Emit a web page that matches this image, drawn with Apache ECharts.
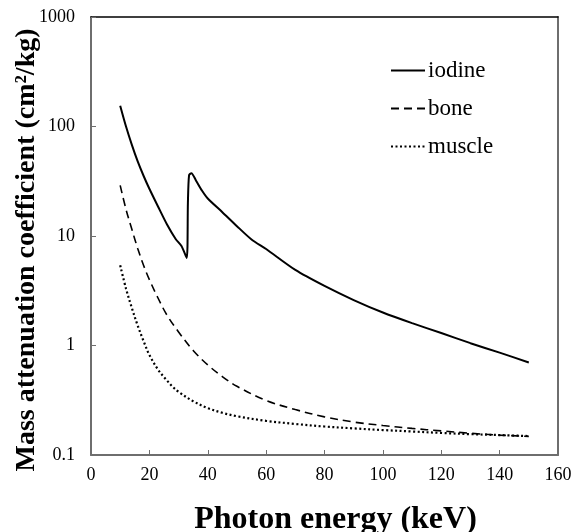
<!DOCTYPE html>
<html>
<head>
<meta charset="utf-8">
<script src="https://cdn.jsdelivr.net/npm/echarts@6/dist/echarts.min.js"></script>
<style>html,body{margin:0;padding:0;background:#fff}#c{width:581px;height:532px}</style>
</head>
<body>
<div id="c"></div>
<script>
// Photon energy (keV) and mass attenuation coefficients
const iodineE = [10, 12, 14, 16, 18, 20, 23, 26, 29, 31, 32.8, 33.2, 33.6, 34.4, 36, 38, 40, 45, 50, 55, 60, 70, 80, 90, 100, 110, 120, 130, 140, 150];
const iodineV = [155, 100, 68, 48, 35.5, 27, 18.5, 12.8, 9.4, 8.1, 6.3, 20, 36, 37.5, 32, 26, 22, 16.5, 12.3, 9.3, 7.6, 4.9, 3.5, 2.6, 2.0, 1.6, 1.3, 1.05, 0.86, 0.70];
const boneE = [10, 12, 14, 16, 18, 20, 23, 26, 30, 35, 40, 45, 50, 60, 70, 80, 90, 100, 110, 120, 130, 140, 150];
const boneV = [29, 17.5, 11.5, 7.7, 5.4, 4.0, 2.7, 1.9, 1.33, 0.9, 0.665, 0.52, 0.424, 0.315, 0.26, 0.223, 0.2, 0.186, 0.175, 0.166, 0.158, 0.152, 0.148];
const muscleE = [10, 12, 14, 16, 18, 20, 23, 26, 28, 30, 35, 40, 45, 50, 60, 70, 80, 90, 100, 110, 120, 130, 140, 150];
const muscleV = [5.4, 3.3, 2.2, 1.52, 1.1, 0.82, 0.60, 0.48, 0.42, 0.377, 0.31, 0.268, 0.243, 0.226, 0.205, 0.192, 0.182, 0.175, 0.169, 0.164, 0.159, 0.155, 0.152, 0.149];
const xTicks = [0, 20, 40, 60, 80, 100, 120, 140, 160];
const yTicks = [0.1, 1, 10, 100, 1000];
const seriesNames = ['iodine', 'bone', 'muscle'];

const pairs = (xs, ys) => xs.map((x, i) => [x, ys[i]]);
const font = '"Liberation Serif", "Times New Roman", serif';

const chart = echarts.init(document.getElementById('c'), null, {renderer: 'canvas'});
chart.setOption({
  animation: false,
  backgroundColor: '#fff',
  textStyle: {fontFamily: font},
  grid: {left: 91, right: 23, top: 17, bottom: 77, show: false, containLabel: false, outerBoundsMode: 'none'},
  legend: {
    orient: 'vertical',
    left: 385,
    top: 54,
    itemWidth: 34,
    itemHeight: 14,
    itemGap: 15,
    data: seriesNames,
    itemStyle: {opacity: 0},
    textStyle: {fontFamily: font, fontSize: 23, color: '#000', lineHeight: 23, padding: [0, 0, 0, -2]}
  },
  xAxis: [{
    type: 'value',
    min: xTicks[0],
    max: xTicks[xTicks.length - 1],
    interval: 20,
    name: 'Photon energy (keV)',
    nameLocation: 'middle',
    nameGap: 49,
    nameMoveOverlap: false,
    nameTextStyle: {fontFamily: font, fontSize: 32, fontWeight: 'bold', color: '#000', padding: [0, 0, 0, 22]},
    axisLine: {show: true, onZero: false, lineStyle: {color: '#6e6e6e', width: 2}},
    axisTick: {show: true, inside: true, length: 5, lineStyle: {color: '#6e6e6e', width: 1}},
    axisLabel: {fontFamily: font, fontSize: 18, color: '#000', margin: 11},
    splitLine: {show: false}
  }, {
    type: 'value',
    position: 'top',
    min: xTicks[0],
    max: xTicks[xTicks.length - 1],
    axisLine: {show: true, onZero: false, lineStyle: {color: '#000', width: 1.5}},
    axisTick: {show: false},
    axisLabel: {show: false},
    splitLine: {show: false}
  }],
  yAxis: [{
    type: 'log',
    logBase: 10,
    min: yTicks[0],
    max: yTicks[yTicks.length - 1],
    name: 'Mass attenuation coefficient (cm²/kg)',
    nameLocation: 'middle',
    nameGap: 50,
    nameMoveOverlap: false,
    nameTextStyle: {fontFamily: font, fontSize: 28, fontWeight: 'bold', color: '#000', padding: [0, 28, 0, 0]},
    axisLine: {show: true, onZero: false, lineStyle: {color: '#6e6e6e', width: 2}},
    axisTick: {show: true, inside: true, length: 5, lineStyle: {color: '#6e6e6e', width: 1}},
    axisLabel: {fontFamily: font, fontSize: 18, color: '#000', margin: 16, formatter: v => String(v)},
    splitLine: {show: false}
  }, {
    type: 'log',
    logBase: 10,
    position: 'right',
    min: yTicks[0],
    max: yTicks[yTicks.length - 1],
    axisLine: {show: true, onZero: false, lineStyle: {color: '#6e6e6e', width: 2}},
    axisTick: {show: false},
    axisLabel: {show: false},
    splitLine: {show: false}
  }],
  series: [{
    name: seriesNames[0],
    type: 'line',
    data: pairs(iodineE, iodineV),
    showSymbol: false,
    symbol: 'none',
    smooth: 0.25,
    itemStyle: {color: '#000'},
    lineStyle: {color: '#000', width: 2}
  }, {
    name: seriesNames[1],
    type: 'line',
    data: pairs(boneE, boneV),
    showSymbol: false,
    symbol: 'none',
    smooth: 0.35,
    itemStyle: {color: '#000'},
    lineStyle: {color: '#000', width: 1.6, type: [8, 5]}
  }, {
    name: seriesNames[2],
    type: 'line',
    data: pairs(muscleE, muscleV),
    showSymbol: false,
    symbol: 'none',
    smooth: 0.35,
    itemStyle: {color: '#000'},
    lineStyle: {color: '#000', width: 2.2, type: [2, 2.5]}
  }]
});
</script>
</body>
</html>
